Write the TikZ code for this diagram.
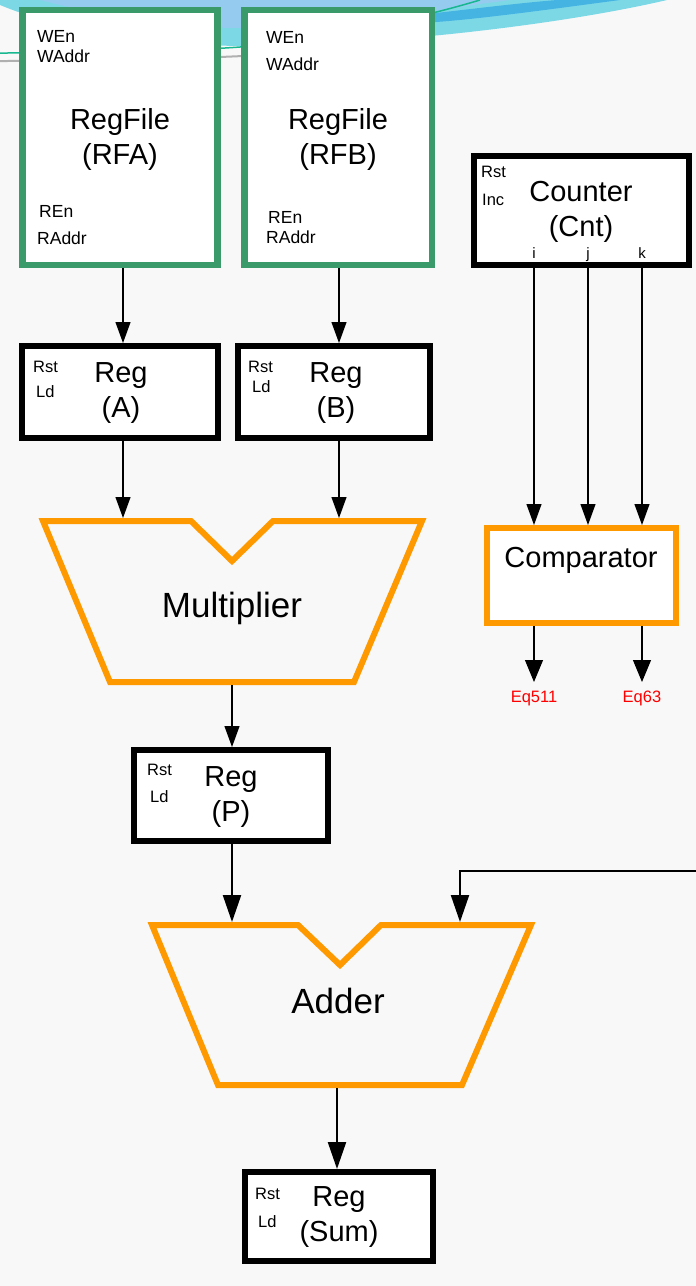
\documentclass[tikz,border=0pt]{standalone}
\usepackage{fontspec}
\setmainfont{Liberation Sans}
\usetikzlibrary{arrows.meta}

\definecolor{rfgreen}{RGB}{58,154,106}
\definecolor{aluorange}{RGB}{255,153,0}
\definecolor{paper}{RGB}{248,248,248}
\definecolor{skyA}{RGB}{148,203,238}
\definecolor{skyB}{RGB}{125,216,230}
\definecolor{skyC}{RGB}{69,180,226}
\definecolor{tealline}{RGB}{23,184,144}
\definecolor{greyline}{RGB}{176,176,176}
\definecolor{eqred}{RGB}{255,0,0}

\begin{document}
\begin{tikzpicture}[x=1pt,y=-1pt,
  rfbox/.style={draw=rfgreen,line width=6.5pt,fill=white,inner sep=0pt},
  regbox/.style={draw=black,line width=6pt,fill=white,inner sep=0pt},
  cmpbox/.style={draw=aluorange,line width=6pt,fill=white,inner sep=0pt},
  alu/.style={draw=aluorange,line width=6pt,line join=miter},
  big/.style={font=\fontsize{29}{35}\selectfont,align=center,inner sep=0pt},
  huge/.style={font=\fontsize{35}{40}\selectfont,inner sep=0pt,anchor=base},
  port/.style={font=\fontsize{16.5}{18}\selectfont,inner sep=0pt,anchor=base west},
  rfport/.style={font=\fontsize{17.5}{20}\selectfont,inner sep=0pt,anchor=base west},
  idx/.style={font=\fontsize{15}{17}\selectfont,inner sep=0pt,anchor=base},
  eqlbl/.style={font=\fontsize{16.5}{18}\selectfont,text=eqred,inner sep=0pt,anchor=base},
  wire/.style={draw=black,line width=1.1pt,-{Triangle[length=21pt,width=15pt]}},
  eqwire/.style={draw=black,line width=1.1pt,-{Triangle[length=22pt,width=18pt]}},
  busw/.style={draw=black,line width=2.2pt,-{Triangle[length=27pt,width=18pt]}},
]
\useasboundingbox (0,0) rectangle (696,1286);
\fill[paper] (0,0) rectangle (696,1286);

% decorative swoosh along the top edge
\fill[skyB] (0,0) -- (0,5) .. controls (60,30) and (150,45) .. (240,46)
  .. controls (380,46) and (560,25) .. (667,0) -- cycle;
\fill[skyA] (40,0) .. controls (110,18) and (180,28) .. (240,28)
  .. controls (330,28) and (400,20) .. (436,12) .. controls (465,6) .. (510,0) -- cycle;
\fill[skyC] (330,25) .. controls (380,22) and (410,16) .. (436,13)
  .. controls (480,8) and (520,3) .. (557,0) -- (620,0)
  .. controls (560,8) and (480,19) .. (436,22) .. controls (400,25) and (360,27) .. (330,27) -- cycle;
\draw[tealline,line width=1.5pt] (0,53) .. controls (120,53) and (200,50) .. (240,47)
  .. controls (330,38) and (420,18) .. (480,0);
\draw[greyline,line width=2pt] (0,61) .. controls (120,61) and (200,58) .. (243,56)
  .. controls (330,50) and (390,40) .. (430,30);

% register files
\node[rfbox,minimum width=195pt,minimum height=255pt] (rfa) at (120,137.5) {};
\node[rfbox,minimum width=187.5pt,minimum height=255pt] (rfb) at (338.25,137.5) {};
\node[big] (rfaT) at (120,139.5) {RegFile\\(RFA)};
\node[big] (rfbT) at (338,139.5) {RegFile\\(RFB)};
\node[rfport] (rfaWEn) at (37,42.5) {WEn};
\node[rfport] (rfaWAddr) at (37,62.5) {WAddr};
\node[rfport] (rfaREn) at (39,217) {REn};
\node[rfport] (rfaRAddr) at (37,244) {RAddr};
\node[rfport] (rfbWEn) at (266,43) {WEn};
\node[rfport] (rfbWAddr) at (266,70) {WAddr};
\node[rfport] (rfbREn) at (268,223) {REn};
\node[rfport] (rfbRAddr) at (266,243) {RAddr};

% operand registers
\node[regbox,minimum width=195.5pt,minimum height=91.5pt] (rega) at (119.75,391.75) {};
\node[regbox,minimum width=192pt,minimum height=91.5pt] (regb) at (334,391.75) {};
\node[big] (regaT) at (121,393.2) {Reg\\(A)};
\node[big] (regbT) at (336,393.2) {Reg\\(B)};
\node[port] (regaRst) at (33,372) {Rst};
\node[port] (regaLd) at (36,397) {Ld};
\node[port] (regbRst) at (248,372) {Rst};
\node[port] (regbLd) at (252,392) {Ld};

% counter and comparator
\node[regbox,minimum width=215.5pt,minimum height=109.5pt] (cnt) at (581.25,210.25) {};
\node[big] (cntT) at (581,212.2) {Counter\\(Cnt)};
\node[port] (cntRst) at (481,177) {Rst};
\node[port] (cntInc) at (482,205) {Inc};
\node[idx] (cntI) at (534,258) {i};
\node[idx] (cntJ) at (588,258) {j};
\node[idx] (cntK) at (642,258) {k};
\node[cmpbox,minimum width=188.5pt,minimum height=95pt] (cmp) at (581.25,575.5) {};
\node[big,anchor=base] (cmpT) at (581,567) {Comparator};
\node[eqlbl] (eq511) at (534,702) {Eq511};
\node[eqlbl] (eq63) at (642,702) {Eq63};

% multiplier
\draw[alu] (43,521) -- (191,521) -- (232,561) -- (273,521) -- (422,521)
  -- (354,682) -- (110,682) -- cycle;
\node[huge] (mulT) at (232,617) {Multiplier};
\coordinate (mulinA) at (123,518);
\coordinate (mulinB) at (339,518);
\coordinate (mulout) at (232,685);

% product register
\node[regbox,minimum width=194pt,minimum height=91pt] (regp) at (231,795.5) {};
\node[big] (regpT) at (231,797.2) {Reg\\(P)};
\node[port] (regpRst) at (147,775) {Rst};
\node[port] (regpLd) at (150,802) {Ld};

% adder
\draw[alu] (152,925) -- (298,925) -- (340,965) -- (381,925) -- (531,925)
  -- (462,1085) -- (218,1085) -- cycle;
\node[huge] (addT) at (338,1013) {Adder};
\coordinate (addinA) at (232,922);
\coordinate (addinB) at (460,922);
\coordinate (addout) at (337,1088);
\coordinate (fbstart) at (696,871);

% sum register
\node[regbox,minimum width=188.5pt,minimum height=88.5pt] (regsum) at (338.75,1216.25) {};
\node[big] (regsumT) at (339,1217.2) {Reg\\(Sum)};
\node[port] (regsumRst) at (255,1199) {Rst};
\node[port] (regsumLd) at (258,1227) {Ld};

% connectors
\draw[wire] ([xshift=3pt]rfa.south) -- ([xshift=3pt]rfa.south |- rega.north);
\draw[wire] ([xshift=0.75pt]rfb.south) -- ([xshift=0.75pt]rfb.south |- regb.north);
\draw[wire] (rega.south -| mulinA) -- (mulinA);
\draw[wire] (regb.south -| mulinB) -- (mulinB);
\draw[wire] (mulout) -- (mulout |- regp.north);
\draw[busw] (regp.south -| addinA) -- (addinA);
\draw[busw] (fbstart) -| (addinB);
\draw[busw] (addout) -- (addout |- regsum.north);
\draw[wire] ([xshift=-47.25pt]cnt.south) -- ([xshift=-47.25pt]cnt.south |- cmp.north);
\draw[wire] ([xshift=6.75pt]cnt.south) -- ([xshift=6.75pt]cnt.south |- cmp.north);
\draw[wire] ([xshift=60.75pt]cnt.south) -- ([xshift=60.75pt]cnt.south |- cmp.north);
\draw[eqwire] ([xshift=-47.25pt]cmp.south) -- ([xshift=-47.25pt,yshift=-56pt]cmp.south);
\draw[eqwire] ([xshift=60.75pt]cmp.south) -- ([xshift=60.75pt,yshift=-56pt]cmp.south);
\end{tikzpicture}
\end{document}
